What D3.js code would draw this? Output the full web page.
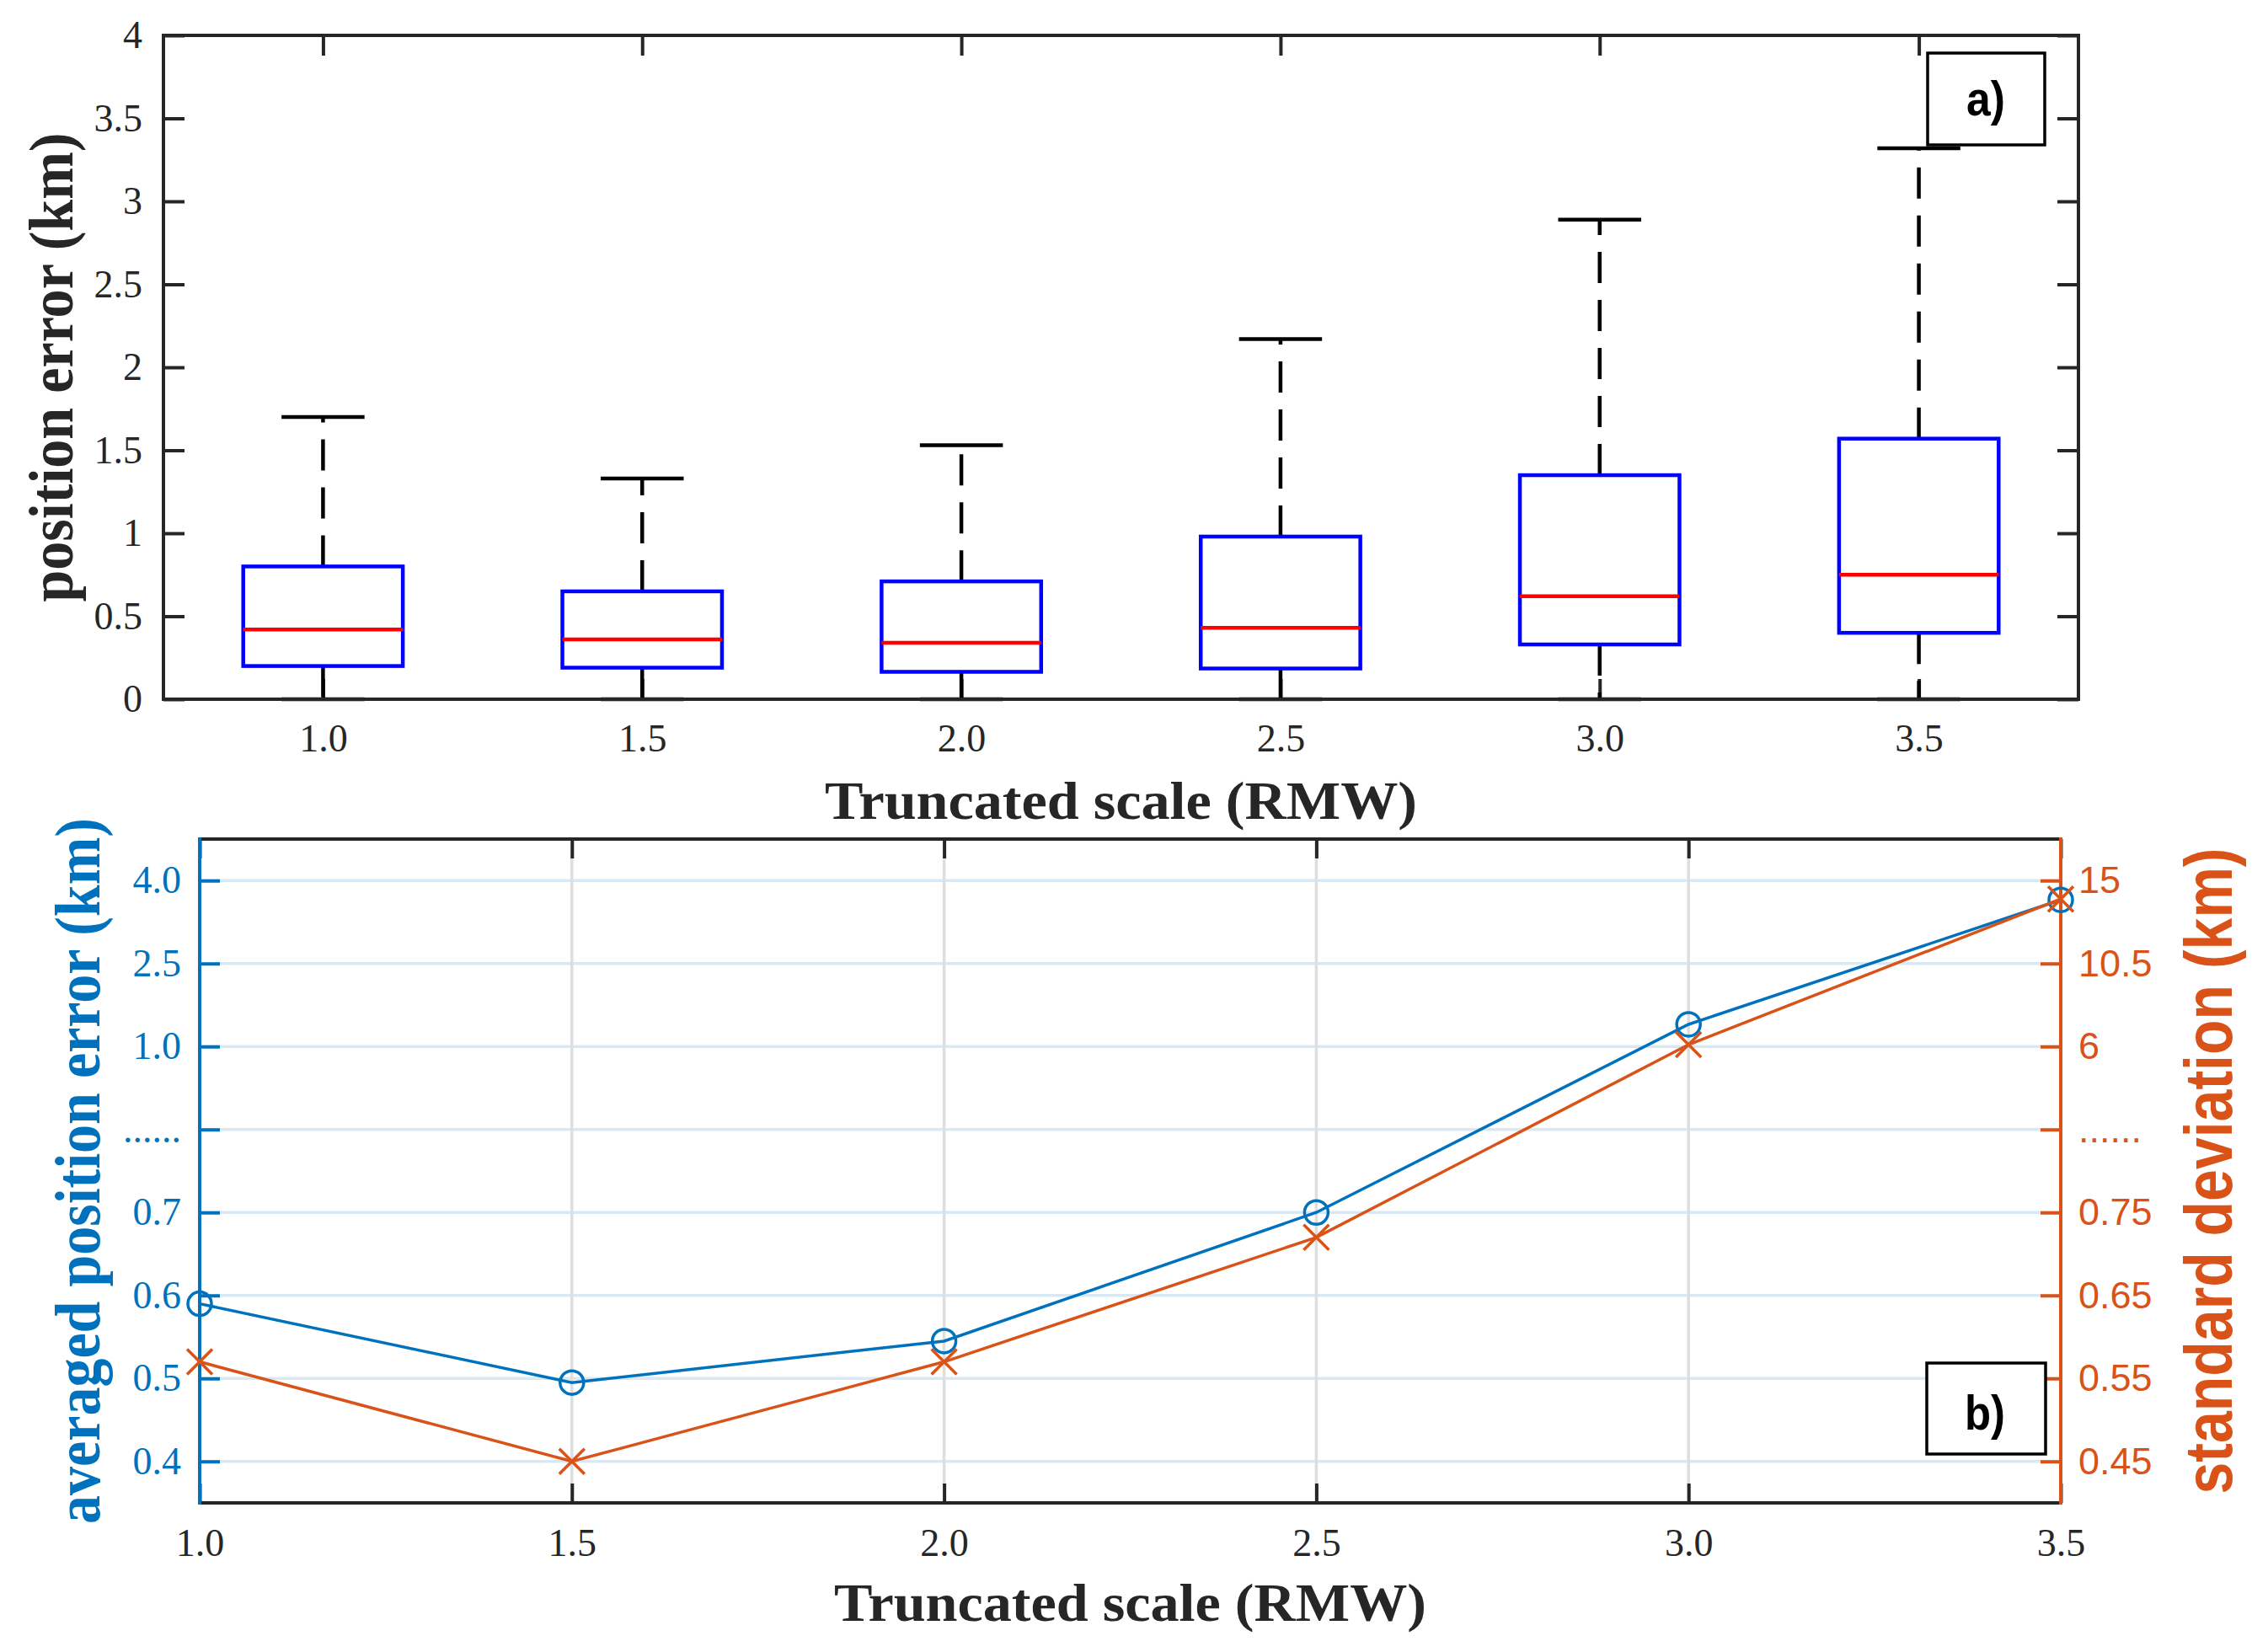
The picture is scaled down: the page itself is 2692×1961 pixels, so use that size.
<!DOCTYPE html>
<html>
<head>
<meta charset="utf-8">
<script src="https://cdn.jsdelivr.net/npm/d3@7"></script>
<style>
  body { margin: 0; background: #fff; }
  svg { display: block; }
</style>
</head>
<body>
<div id="chart"></div>
<script>
// panel a) box plot summary
const scales = ["1.0", "1.5", "2.0", "2.5", "3.0", "3.5"];
const whiskerHigh = [1.70, 1.33, 1.53, 2.17, 2.89, 3.32];
const q3 = [0.80, 0.65, 0.71, 0.98, 1.35, 1.57];
const medians = [0.42, 0.36, 0.34, 0.43, 0.62, 0.75];
const q1 = [0.20, 0.19, 0.165, 0.185, 0.33, 0.40];
const whiskerLow = [0, 0, 0, 0, 0, 0];
const boxTicks = [0, 0.5, 1, 1.5, 2, 2.5, 3, 3.5, 4];

// panel b) two series on broken axes
const xVals = [1.0, 1.5, 2.0, 2.5, 3.0, 3.5];
const avgError = [0.59, 0.495, 0.545, 0.70, 1.40, 3.65];
const stdDev = [0.57, 0.45, 0.57, 0.72, 6.1, 14.0];
const leftTicks = [0.4, 0.5, 0.6, 0.7, 0.85, 1.0, 2.5, 4.0];
const leftLabels = ["0.4", "0.5", "0.6", "0.7", "......", "1.0", "2.5", "4.0"];
const rightTicks = [0.45, 0.55, 0.65, 0.75, 3.375, 6, 10.5, 15];
const rightLabels = ["0.45", "0.55", "0.65", "0.75", "......", "6", "10.5", "15"];

const width = 2692, height = 1961;
const dark = "#262626", blue = "#0072BD", orange = "#D95319";
const serif = "'Liberation Serif', 'Times New Roman', serif";
const sans = "'Liberation Sans', Arial, Helvetica, sans-serif";

const svg = d3.select("#chart").append("svg")
    .attr("width", width)
    .attr("height", height);
svg.append("rect").attr("width", width).attr("height", height).attr("fill", "#fff");

// ---------- panel a ----------
const A = {left: 194, right: 2467, top: 42, bottom: 830};
const xa = d3.scaleLinear().domain([0.5, 6.5]).range([A.left, A.right]);
const ya = d3.scaleLinear().domain([0, 4]).range([A.bottom, A.top]);
const step = xa(2) - xa(1);

function styleAxis(g, color, font, size) {
    g.style("color", color).attr("font-family", font).attr("font-size", size);
    g.select(".domain").remove();
    g.selectAll("line").attr("stroke-width", 4);
}

svg.append("g").attr("transform", `translate(0,${A.bottom})`)
    .call(d3.axisBottom(xa).tickValues(d3.range(1, 7)).tickFormat((d, i) => scales[i])
        .tickSize(-24).tickPadding(29))
    .call(g => styleAxis(g, dark, serif, 46));
svg.append("g").attr("transform", `translate(0,${A.top})`)
    .call(d3.axisTop(xa).tickValues(d3.range(1, 7)).tickFormat("").tickSize(-24))
    .call(g => styleAxis(g, dark, serif, 46));
svg.append("g").attr("transform", `translate(${A.left},0)`)
    .call(d3.axisLeft(ya).tickValues(boxTicks).tickFormat(d3.format("")).tickSize(-25).tickPadding(25))
    .call(g => styleAxis(g, dark, serif, 46));
svg.append("g").attr("transform", `translate(${A.right},0)`)
    .call(d3.axisRight(ya).tickValues(boxTicks).tickFormat("").tickSize(-25))
    .call(g => styleAxis(g, dark, serif, 46));

const boxes = svg.append("g");
scales.forEach((s, i) => {
    const cx = xa(i + 1);
    const g = boxes.append("g");
    // whiskers
    g.append("line").attr("x1", cx).attr("x2", cx).attr("y1", ya(q3[i])).attr("y2", ya(whiskerHigh[i]))
        .attr("stroke", "#000").attr("stroke-width", 4.5).attr("stroke-dasharray", "37,20");
    g.append("line").attr("x1", cx).attr("x2", cx).attr("y1", ya(q1[i])).attr("y2", ya(whiskerLow[i]))
        .attr("stroke", "#000").attr("stroke-width", 4.5).attr("stroke-dasharray", "37,20");
    [whiskerHigh[i], whiskerLow[i]].forEach(v => {
        g.append("line").attr("x1", cx - step * 0.13).attr("x2", cx + step * 0.13)
            .attr("y1", ya(v)).attr("y2", ya(v))
            .attr("stroke", "#000").attr("stroke-width", 4.5);
    });
    g.append("rect").attr("x", cx - step / 4).attr("width", step / 2)
        .attr("y", ya(q3[i])).attr("height", ya(q1[i]) - ya(q3[i]))
        .attr("fill", "none").attr("stroke", "#0000FF").attr("stroke-width", 4.5);
    g.append("line").attr("x1", cx - step / 4).attr("x2", cx + step / 4)
        .attr("y1", ya(medians[i])).attr("y2", ya(medians[i]))
        .attr("stroke", "#FF0000").attr("stroke-width", 4.5);
});

svg.append("rect").attr("x", A.left).attr("y", A.top)
    .attr("width", A.right - A.left).attr("height", A.bottom - A.top)
    .attr("fill", "none").attr("stroke", dark).attr("stroke-width", 4);

// panel label a)
svg.append("rect").attr("x", 2288).attr("y", 63).attr("width", 139).attr("height", 109)
    .attr("fill", "#fff").attr("stroke", "#000").attr("stroke-width", 3.5);
svg.append("text").attr("x", 2357).attr("y", 137).attr("text-anchor", "middle")
    .attr("font-family", sans).attr("font-weight", "bold").attr("font-size", 58)
    .attr("textLength", 46).attr("lengthAdjust", "spacingAndGlyphs")
    .text("a)");

svg.append("text").attr("x", (A.left + A.right) / 2).attr("y", 972).attr("text-anchor", "middle")
    .attr("font-family", serif).attr("font-weight", "bold").attr("font-size", 64).attr("fill", dark)
    .attr("textLength", 703).attr("lengthAdjust", "spacingAndGlyphs")
    .text("Truncated scale (RMW)");
svg.append("text").attr("transform", `translate(86,${(A.top + A.bottom) / 2}) rotate(-90)`)
    .attr("text-anchor", "middle")
    .attr("font-family", serif).attr("font-weight", "bold").attr("font-size", 74).attr("fill", dark)
    .attr("textLength", 557).attr("lengthAdjust", "spacingAndGlyphs")
    .text("position error (km)");

// ---------- panel b ----------
const B = {left: 237, right: 2446, top: 996, bottom: 1784};
const xb = d3.scaleLinear().domain([1, 3.5]).range([B.left, B.right]);
const yIdx = d3.scaleLinear().domain([-0.5, 7.5]).range([B.bottom, B.top]);
const idx = [-0.5, 0, 1, 2, 3, 5, 6, 7, 7.5];
const yl = d3.scaleLinear()
    .domain([0.35, 0.4, 0.5, 0.6, 0.7, 1.0, 2.5, 4.0, 5.5])
    .range(idx.map(yIdx));
const yr = d3.scaleLinear()
    .domain([0.40, 0.45, 0.55, 0.65, 0.75, 6, 10.5, 15, 19.5])
    .range(idx.map(yIdx));

// grid
const grid = svg.append("g");
grid.selectAll(".hg").data(leftTicks).join("line")
    .attr("x1", B.left).attr("x2", B.right).attr("y1", d => yl(d)).attr("y2", d => yl(d))
    .attr("stroke", "#d9e9f4").attr("stroke-width", 3.5);
grid.selectAll(".vg").data(xVals.slice(1, -1)).join("line")
    .attr("x1", d => xb(d)).attr("x2", d => xb(d)).attr("y1", B.top).attr("y2", B.bottom)
    .attr("stroke", "#dedede").attr("stroke-width", 3.5);

svg.append("g").attr("transform", `translate(0,${B.bottom})`)
    .call(d3.axisBottom(xb).tickValues(xVals).tickFormat(d3.format(".1f")).tickSize(-23).tickPadding(30))
    .call(g => styleAxis(g, dark, serif, 46));
svg.append("g").attr("transform", `translate(0,${B.top})`)
    .call(d3.axisTop(xb).tickValues(xVals).tickFormat("").tickSize(-23))
    .call(g => styleAxis(g, dark, serif, 46));
svg.append("g").attr("transform", `translate(${B.left},0)`)
    .call(d3.axisLeft(yl).tickValues(leftTicks).tickFormat((d, i) => leftLabels[i]).tickSize(-24).tickPadding(22))
    .call(g => styleAxis(g, blue, serif, 46));
svg.append("g").attr("transform", `translate(${B.right},0)`)
    .call(d3.axisRight(yr).tickValues(rightTicks).tickFormat((d, i) => rightLabels[i]).tickSize(-24).tickPadding(21))
    .call(g => styleAxis(g, orange, sans, 45));

// frame
svg.append("line").attr("x1", B.left).attr("x2", B.right).attr("y1", B.top).attr("y2", B.top)
    .attr("stroke", dark).attr("stroke-width", 4);
svg.append("line").attr("x1", B.left).attr("x2", B.right).attr("y1", B.bottom).attr("y2", B.bottom)
    .attr("stroke", dark).attr("stroke-width", 4);
svg.append("line").attr("x1", B.left).attr("x2", B.left).attr("y1", B.top - 2).attr("y2", B.bottom + 2)
    .attr("stroke", blue).attr("stroke-width", 4);
svg.append("line").attr("x1", B.right).attr("x2", B.right).attr("y1", B.top - 2).attr("y2", B.bottom + 2)
    .attr("stroke", orange).attr("stroke-width", 4);

// series
const lineL = d3.line().x((d, i) => xb(xVals[i])).y(d => yl(d));
const lineR = d3.line().x((d, i) => xb(xVals[i])).y(d => yr(d));
svg.append("path").attr("d", lineL(avgError)).attr("fill", "none")
    .attr("stroke", blue).attr("stroke-width", 3.5);
svg.append("g").selectAll("circle").data(avgError).join("circle")
    .attr("cx", (d, i) => xb(xVals[i])).attr("cy", d => yl(d)).attr("r", 14)
    .attr("fill", "none").attr("stroke", blue).attr("stroke-width", 3.5);
svg.append("path").attr("d", lineR(stdDev)).attr("fill", "none")
    .attr("stroke", orange).attr("stroke-width", 3.5);
const cross = svg.append("g").selectAll("g").data(stdDev).join("g")
    .attr("transform", (d, i) => `translate(${xb(xVals[i])},${yr(d)})`);
cross.append("line").attr("x1", -15).attr("y1", -15).attr("x2", 15).attr("y2", 15)
    .attr("stroke", orange).attr("stroke-width", 3.5);
cross.append("line").attr("x1", -15).attr("y1", 15).attr("x2", 15).attr("y2", -15)
    .attr("stroke", orange).attr("stroke-width", 3.5);

// panel label b)
svg.append("rect").attr("x", 2287).attr("y", 1618).attr("width", 141).attr("height", 108)
    .attr("fill", "#fff").attr("stroke", "#000").attr("stroke-width", 3.5);
svg.append("text").attr("x", 2356).attr("y", 1697).attr("text-anchor", "middle")
    .attr("font-family", sans).attr("font-weight", "bold").attr("font-size", 58)
    .attr("textLength", 48).attr("lengthAdjust", "spacingAndGlyphs")
    .text("b)");

svg.append("text").attr("x", (B.left + B.right) / 2).attr("y", 1924).attr("text-anchor", "middle")
    .attr("font-family", serif).attr("font-weight", "bold").attr("font-size", 64).attr("fill", dark)
    .attr("textLength", 703).attr("lengthAdjust", "spacingAndGlyphs")
    .text("Truncated scale (RMW)");
svg.append("text").attr("transform", `translate(118,${(B.top + B.bottom) / 2}) rotate(-90)`)
    .attr("text-anchor", "middle")
    .attr("font-family", serif).attr("font-weight", "bold").attr("font-size", 76).attr("fill", blue)
    .attr("textLength", 838).attr("lengthAdjust", "spacingAndGlyphs")
    .text("averaged position error (km)");
svg.append("text").attr("transform", `translate(2649,${(B.top + B.bottom) / 2}) rotate(-90)`)
    .attr("text-anchor", "middle")
    .attr("font-family", sans).attr("font-weight", "bold").attr("font-size", 80).attr("fill", orange)
    .attr("textLength", 767).attr("lengthAdjust", "spacingAndGlyphs")
    .text("standard deviation (km)");
</script>
</body>
</html>
